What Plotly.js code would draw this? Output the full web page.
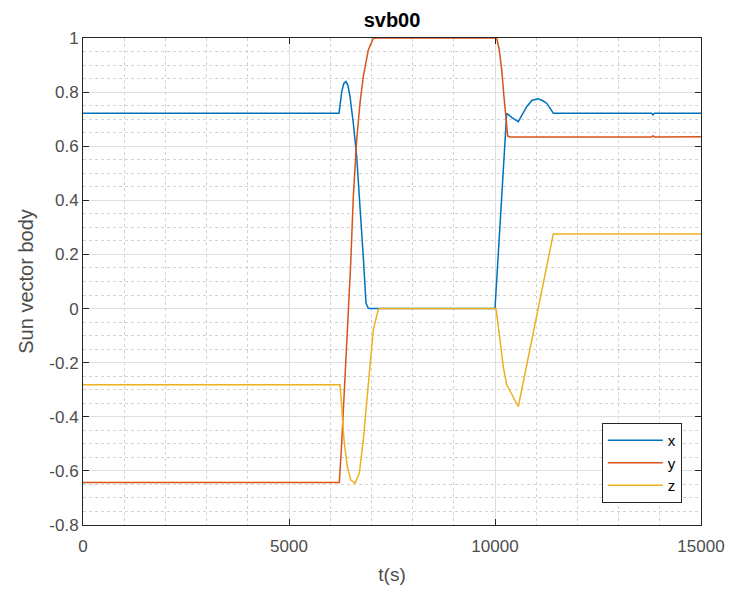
<!DOCTYPE html>
<html>
<head>
<meta charset="utf-8">
<script src="https://cdn.plot.ly/plotly-3.0.1.min.js"></script>
<style>html,body{margin:0;padding:0;background:#fff;}#chart{width:732px;height:592px;}</style>
</head>
<body>
<div id="chart"></div>
<script>
// Series x (blue)
const tX = [0, 6214, 6279, 6330, 6383, 6430, 6481, 6561, 6643, 6723, 6803, 6869, 6925, 7000, 10000, 10284, 10420, 10566, 10769, 10900, 11051, 11160, 11255, 11415, 13800, 13835, 13870, 15000];
const vX = [0.722, 0.722, 0.80, 0.832, 0.839, 0.825, 0.783, 0.685, 0.561, 0.389, 0.192, 0.02, 0.001, 0.0, 0.0, 0.722, 0.705, 0.691, 0.746, 0.77, 0.775, 0.768, 0.759, 0.722, 0.722, 0.716, 0.722, 0.722];
// Series y (red)
const tY = [0, 6221, 6279, 6335, 6400, 6439, 6498, 6561, 6643, 6723, 6803, 6925, 7046, 7167, 10000, 10041, 10104, 10163, 10218, 10267, 10308, 10364, 13800, 13835, 13870, 15000];
const vY = [-0.643, -0.643, -0.498, -0.338, -0.153, -0.042, 0.167, 0.414, 0.623, 0.759, 0.857, 0.956, 0.999, 1.0, 1.0, 1.0, 0.956, 0.882, 0.783, 0.697, 0.638, 0.634, 0.634, 0.639, 0.634, 0.635];
// Series z (yellow)
const tZ = [0, 6238, 6279, 6335, 6415, 6498, 6602, 6706, 6803, 6925, 7046, 7167, 7200, 10000, 10024, 10121, 10201, 10284, 10444, 10566, 11415, 15000];
const vZ = [-0.282, -0.282, -0.362, -0.486, -0.584, -0.633, -0.646, -0.609, -0.486, -0.276, -0.079, -0.003, 0, 0, 0, -0.116, -0.215, -0.282, -0.325, -0.362, 0.276, 0.276];

const seriesNames = ['x', 'y', 'z'];
const xTickVals = [0, 5000, 10000, 15000];
const xTickText = ['0', '5000', '10000', '15000'];
const yTickVals = [-0.8, -0.6, -0.4, -0.2, 0, 0.2, 0.4, 0.6, 0.8, 1];
const yTickText = ['-0.8', '-0.6', '-0.4', '-0.2', '0', '0.2', '0.4', '0.6', '0.8', '1'];

const colors = ['#0072BD', '#D95319', '#EDB120'];
const ts = [tX, tY, tZ];
const vs = [vX, vY, vZ];

const traces = seriesNames.map((n, i) => ({
  x: ts[i], y: vs[i], name: n, type: 'scatter', mode: 'lines',
  line: {color: colors[i], width: 1.5}
}));

const fam = 'Liberation Sans, Arial, sans-serif';
const axisCommon = {
  showline: true, mirror: 'allticks', linecolor: '#262626', linewidth: 1,
  ticks: 'inside', ticklen: 6, tickcolor: '#262626',
  showgrid: true, gridcolor: '#dfdfdf', gridwidth: 1,
  zeroline: false, tickfont: {size: 17, color: '#4d4d4d', family: fam},
  tickmode: 'array'
};

const layout = {
  width: 732, height: 592,
  margin: {l: 83, r: 31, t: 38, b: 67},
  paper_bgcolor: '#ffffff', plot_bgcolor: '#ffffff',
  font: {family: fam, color: '#262626'},
  title: {text: '<b>svb00</b>', font: {size: 20, color: '#000000', family: fam}, x: 0.5, xref: 'paper', xanchor: 'center', y: 0.978, yanchor: 'top'},
  xaxis: Object.assign({}, axisCommon, {
    range: [0, 15000], tickvals: xTickVals, ticktext: xTickText,
    ticklabelstandoff: 6,
    minor: {dtick: 1000, showgrid: true, gridcolor: '#d3d3d3', griddash: '3px,3px', gridwidth: 1},
    title: {text: 't(s)', font: {size: 19, color: '#4d4d4d'}, standoff: 12}
  }),
  yaxis: Object.assign({}, axisCommon, {
    range: [-0.8, 1], tickvals: yTickVals, ticktext: yTickText,
    minor: {dtick: 0.05, showgrid: true, gridcolor: '#d3d3d3', griddash: '3px,3px', gridwidth: 1},
    title: {text: 'Sun vector body', font: {size: 20, color: '#4d4d4d'}, standoff: 10}
  }),
  showlegend: true,
  legend: {
    x: 0.969, xanchor: 'right', y: 0.045, yanchor: 'bottom',
    bgcolor: '#ffffff', bordercolor: '#262626', borderwidth: 1,
    font: {size: 15, color: '#000000'}, itemwidth: 55, tracegroupgap: 0
  }
};

Plotly.newPlot('chart', traces, layout, {displayModeBar: false, staticPlot: true});
</script>
</body>
</html>
